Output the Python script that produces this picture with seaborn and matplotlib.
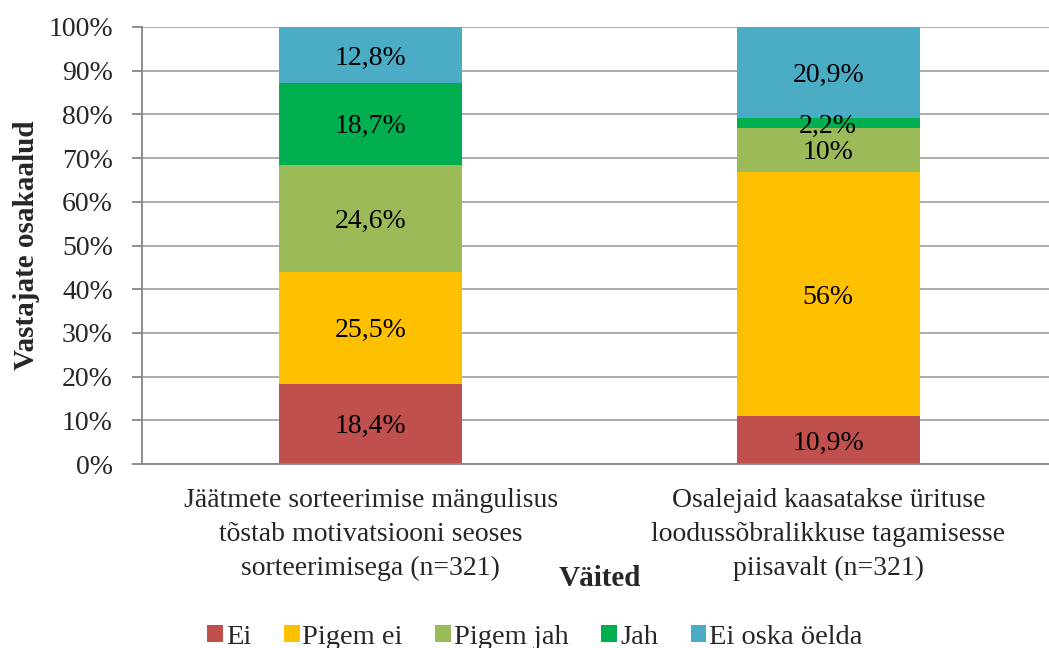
import matplotlib
matplotlib.use("Agg")
import matplotlib.pyplot as plt
import seaborn as sns
import pandas as pd
import numpy as np
from matplotlib.patches import Patch

categories = [
    "Jäätmete sorteerimise mängulisus\ntõstab motivatsiooni seoses\nsorteerimisega (n=321)",
    "Osalejaid kaasatakse ürituse\nloodussõbralikkuse tagamisesse\npiisavalt (n=321)",
]
series_names = ["Ei", "Pigem ei", "Pigem jah", "Jah", "Ei oska öelda"]
ei = [18.4, 10.9]
pigem_ei = [25.5, 56.0]
pigem_jah = [24.6, 10.0]
jah = [18.7, 2.2]
ei_oska = [12.8, 20.9]
label_text = [["18,4%", "10,9%"], ["25,5%", "56%"], ["24,6%", "10%"],
              ["18,7%", "2,2%"], ["12,8%", "20,9%"]]
colors = ["#C0504D", "#FFC000", "#9BBB59", "#00B050", "#4BACC6"]
yticks = [0, 10, 20, 30, 40, 50, 60, 70, 80, 90, 100]

sns.set_theme(style="white")
plt.rcParams["font.family"] = ["Liberation Serif", "DejaVu Serif"]
FS = 20

values = np.array([ei, pigem_ei, pigem_jah, jah, ei_oska])
cum = np.cumsum(values, axis=0)

fig = plt.figure(figsize=(10.49, 6.48), dpi=100)
ax = fig.add_axes([142/1049, 1-464/648, 915/1049, 437/648])

ax.set_axisbelow(True)
ax.yaxis.grid(True, color="#A6A6A6", linewidth=1.3)

for i in range(len(series_names) - 1, -1, -1):
    df = pd.DataFrame({"cat": categories, "val": cum[i]})
    sns.barplot(data=df, x="cat", y="val", order=categories, color=colors[i],
                saturation=1, width=0.4, ax=ax, edgecolor="none", linewidth=0)

for i in range(len(series_names)):
    for j in range(len(categories)):
        ax.text(j, cum[i][j] - values[i][j] / 2, label_text[i][j],
                ha="center", va="center_baseline", fontsize=FS, color="black")

ax.set_xlim(-0.5, 1.5)
ax.set_ylim(0, 100)
ax.set_yticks(yticks)
ax.set_yticklabels([f"{t}%" for t in yticks], fontsize=FS)
ax.set_xticks([0, 1])
ax.set_xticklabels(categories, fontsize=FS, linespacing=1.47)
ax.set_xticks([-0.5, 0.5, 1.5], minor=True)
ax.tick_params(axis="x", which="major", length=0, pad=17)
ax.tick_params(axis="x", which="minor", length=7, width=1.3, color="#868686", direction="out")
ax.tick_params(axis="y", length=7, width=1.3, color="#868686", direction="out", pad=14, left=True)

for s in ["top", "right"]:
    ax.spines[s].set_visible(False)
for s in ["left", "bottom"]:
    ax.spines[s].set_color("#868686")
    ax.spines[s].set_linewidth(1.3)

ax.set_xlabel("Väited", fontsize=21, fontweight="bold")
ax.xaxis.set_label_coords(0.5, -0.232)
ax.set_ylabel("Vastajate osakaalud", fontsize=21, fontweight="bold")
ax.yaxis.set_label_coords(-0.112, 0.5)

handles = [Patch(facecolor=c, edgecolor="none") for c in colors]
fig.legend(handles, series_names, loc="center", ncol=5, frameon=False,
           bbox_to_anchor=(535/1049, 1-637/648), fontsize=20.5,
           handlelength=0.55, handleheight=0.55, handletextpad=0.1,
           columnspacing=1.15)

fig.savefig("out.png", dpi=100)
